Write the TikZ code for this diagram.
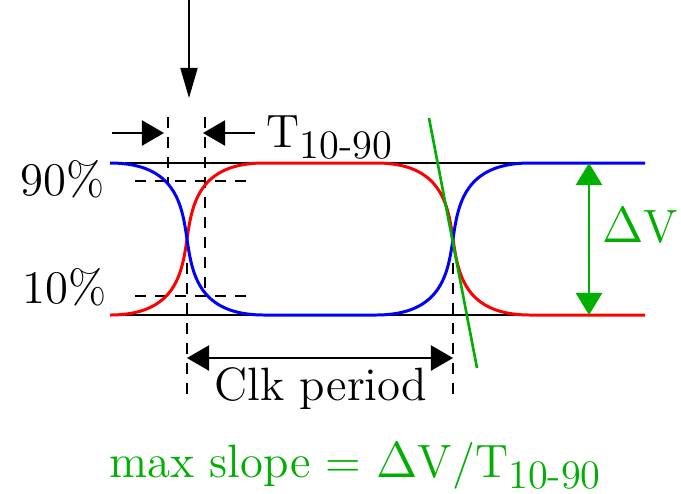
\documentclass[tikz,border=0pt]{standalone}
\usepackage{tikz}
\usetikzlibrary{arrows.meta,positioning}
\definecolor{cRise}{RGB}{255,0,0}
\definecolor{cFall}{RGB}{0,0,255}
\definecolor{cSlope}{RGB}{0,175,0}
\newcommand{\lowsub}[1]{\raisebox{-3.2pt}{\fontsize{11.5}{12}\selectfont #1}}
\tikzset{
  lbl/.style={inner sep=0pt,anchor=base west,font=\fontsize{13.3}{16}\selectfont},
  rail/.style={line width=0.7pt,color=black},
  sig/.style={line width=0.85pt},
  guide/.style={line width=0.6pt,dash pattern=on 0.11cm off 0.09cm},
  dimarr/.style={line width=0.6pt,-{Triangle[length=0.22cm,width=0.25cm]}},
  dimboth/.style={line width=0.6pt,{Triangle[length=0.22cm,width=0.25cm]}-{Triangle[length=0.22cm,width=0.25cm]}},
  probearr/.style={line width=0.5pt,-{Triangle[length=0.3cm,width=0.17cm]}},
  grnboth/.style={line width=0.8pt,color=cSlope,
                  {Triangle[length=0.22cm,width=0.26cm]}-{Triangle[length=0.22cm,width=0.26cm]}}
}
\begin{document}
\begin{tikzpicture}[x=0.01cm,y=-0.01cm]
  \useasboundingbox (0,0) rectangle (681,493);

  % rails
  \coordinate (rail_tl) at (125,163);
  \coordinate (rail_tr) at (530,163);
  \coordinate (rail_bl) at (125,315);
  \coordinate (rail_br) at (530,315);
  \draw[rail] (rail_tl) -- (rail_tr);
  \draw[rail] (rail_bl) -- (rail_br);

  % 10% / 90% levels
  \node[lbl] (p90) at (20,195) {90\%};
  \node[lbl] (p10) at (22,303) {10\%};
  \coordinate (l90a) at (135,181);
  \coordinate (l90b) at (252,181);
  \coordinate (l10a) at (135,296);
  \coordinate (l10b) at (252,296);
  \draw[guide] (l90a) -- (l90b);
  \draw[guide] (l10a) -- (l10b);

  % edge markers
  \coordinate (t90_top) at (168,117);
  \coordinate (t90_bot) at (168,184);
  \coordinate (t10_top) at (205,117);
  \coordinate (t10_bot) at (205,297);
  \coordinate (x1_top) at (187,263);
  \coordinate (x1_bot) at (187,398);
  \coordinate (x2_top) at (453,263);
  \coordinate (x2_bot) at (453,398);
  \draw[guide] (t90_top) -- (t90_bot);
  \draw[guide] (t10_top) -- (t10_bot);
  \draw[guide] (x1_top) -- (x1_bot);
  \draw[guide] (x2_top) -- (x2_bot);

  % waveforms
  \draw[sig,cRise] (110,315) .. controls (176,315) and (182,273) .. (187,239)
      .. controls (192,205) and (198,163) .. (264,163) -- (376,163)
      .. controls (442,163) and (448,205) .. (453,239)
      .. controls (458,273) and (464,315) .. (530,315) -- (645,315);
  \draw[sig,cFall] (110,163) .. controls (176,163) and (182,205) .. (187,239)
      .. controls (192,273) and (198,315) .. (264,315) -- (376,315)
      .. controls (442,315) and (448,273) .. (453,239)
      .. controls (458,205) and (464,163) .. (530,163) -- (645,163);

  % T_{10-90}
  \coordinate (probe) at (189,0);
  \coordinate (probe_tip) at (189,98);
  \draw[probearr] (probe) -- (probe_tip);
  \coordinate (rt_l) at (112,133);
  \coordinate (rt_lt) at (164,133);
  \coordinate (rt_r) at (255,133);
  \coordinate (rt_rt) at (203,133);
  \draw[dimarr] (rt_l) -- (rt_lt);
  \draw[dimarr] (rt_r) -- (rt_rt);
  \node[lbl] (trise) at (266,147) {T\lowsub{10-90}};

  % clock period
  \coordinate (clk_a) at (187,358);
  \coordinate (clk_b) at (453,358);
  \draw[dimboth] (clk_a) -- (clk_b);
  \node[lbl,anchor=base] (clk) at (321,400) {Clk period};

  % swing and slope
  \coordinate (sw_top) at (589,163);
  \coordinate (sw_bot) at (589,315);
  \draw[grnboth] (sw_top) -- (sw_bot);
  \node[lbl,anchor=base east,text=cSlope] (dv) at (679,242) {$\Delta$V};
  \coordinate (tan_a) at (429,118);
  \coordinate (tan_b) at (477,368);
  \draw[line width=0.75pt,cSlope] (tan_a) -- (tan_b);
  \node[lbl,anchor=base,text=cSlope] (slope) at (355,477)
      {max slope = $\Delta$V/T\lowsub{10-90}};

\end{tikzpicture}
\end{document}
